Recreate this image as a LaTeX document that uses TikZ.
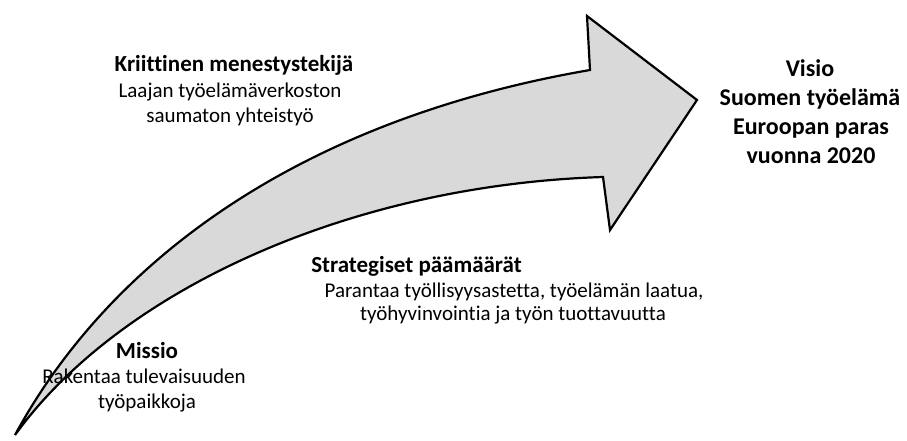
\documentclass[tikz,border=0pt]{standalone}
\usepackage{fontspec}
\setmainfont{Carlito}[Ligatures={NoCommon}]
\begin{document}
\begin{tikzpicture}[x=1pt,y=-1pt,
  arrowshape/.style={draw=black, line width=2.2pt, fill=black!15, line join=miter},
  boldtxt/.style={font=\bfseries\fontsize{23}{28}\selectfont, anchor=base, inner sep=0pt},
  regtxt/.style={font=\fontsize{21}{26}\selectfont, anchor=base, inner sep=0pt},
  visiotxt/.style={font=\bfseries\fontsize{24}{29}\selectfont, anchor=base, inner sep=0pt}]
\useasboundingbox (0,0) rectangle (907,441);
\coordinate (tail) at (15,435);
\coordinate (notchtop) at (590,70);
\coordinate (headtop) at (587,16);
\coordinate (tip) at (697,100);
\coordinate (headbot) at (610,230);
\coordinate (notchbot) at (603,177);
\draw[arrowshape] (tail) .. controls (110,260) and (300,120) .. (notchtop)
  -- (headtop) -- (tip) -- (headbot) -- (notchbot)
  .. controls (350,185) and (120,290) .. (tail) -- cycle;
% Kriittinen menestystekija
\node[boldtxt] (krit1) at (234,72) {Kriittinen menestystekijä};
\node[regtxt] (krit2) at (230,98) {Laajan työelämäverkoston};
\node[regtxt] (krit3) at (230,123) {saumaton yhteistyö};
% Visio
\node[visiotxt] (vis1) at (810,77) {Visio};
\node[visiotxt] (vis2) at (810,106) {Suomen työelämä};
\node[visiotxt] (vis3) at (811,135) {Euroopan paras};
\node[visiotxt] (vis4) at (811,164) {vuonna 2020};
% Strategiset paamaarat
\node[boldtxt] (str1) at (416.5,272) {Strategiset päämäärät};
\node[regtxt] (str2) at (514,297) {Parantaa työllisyysastetta, työelämän laatua,};
\node[regtxt] (str3) at (513,320) {työhyvinvointia ja työn tuottavuutta};
% Missio
\node[boldtxt] (mis1) at (147,358) {Missio};
\node[regtxt] (mis2) at (144,383) {Rakentaa tulevaisuuden};
\node[regtxt] (mis3) at (147,408) {työpaikkoja};
\end{tikzpicture}
\end{document}
